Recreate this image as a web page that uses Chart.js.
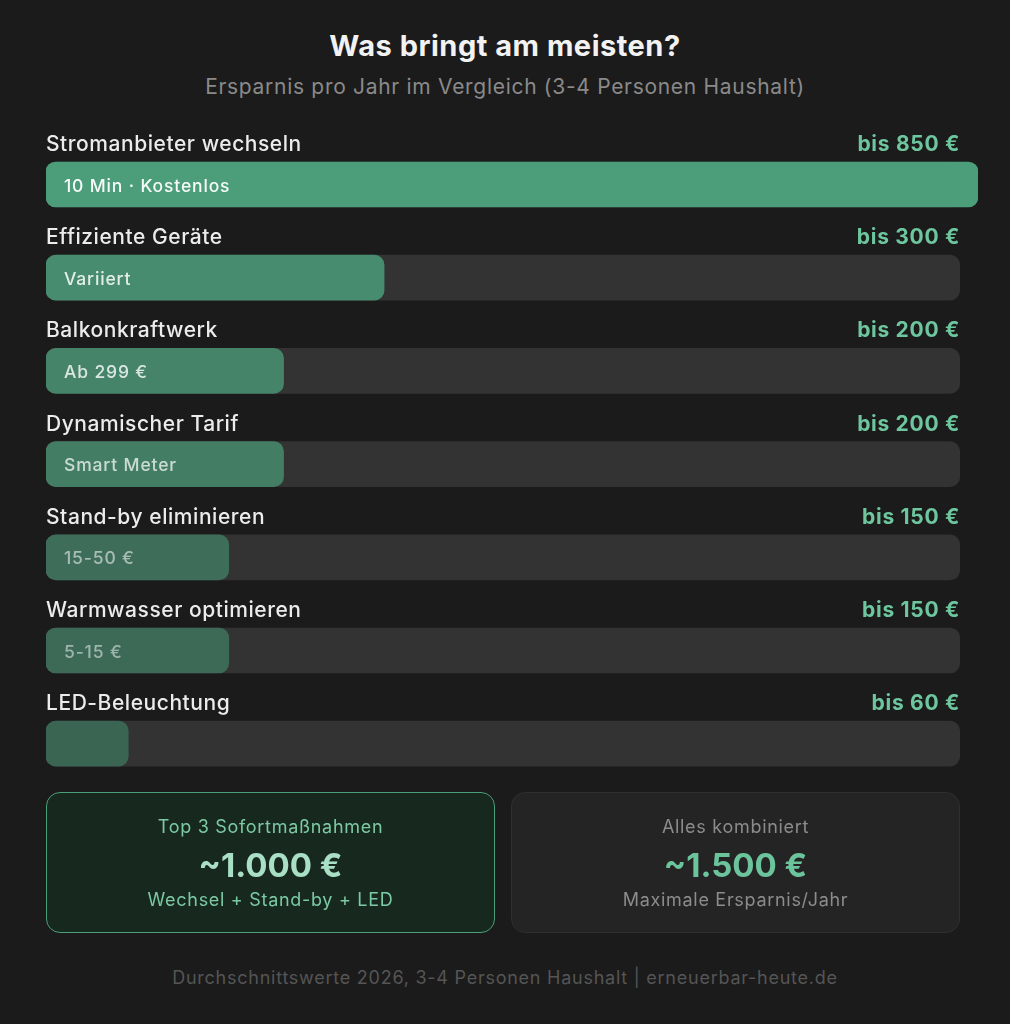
<!DOCTYPE html>
<html><head><meta charset="utf-8">
<script src="https://cdn.jsdelivr.net/npm/chart.js@4/dist/chart.umd.min.js"></script>
<style>
html,body{margin:0;padding:0;background:#1b1b1b;width:1010px;height:1024px;overflow:hidden;font-family:Inter,"Noto Sans",sans-serif;}
#wrap{position:relative;width:1010px;height:1024px;}
.t{position:absolute;left:0;width:1010px;text-align:center;line-height:1.2;}
#title{top:29px;font-size:29px;font-weight:700;color:#f2f2f2;letter-spacing:0.5px;}
#sub{top:74px;font-size:21px;color:#8a8a8a;letter-spacing:0.7px;}
#cv{position:absolute;left:0;top:110px;}
.card{position:absolute;top:792px;height:141px;width:449px;box-sizing:border-box;border-radius:14px;text-align:center;}
#c1{left:46px;background:#17281f;border:1.5px solid #4a9e78;}
#c2{left:511px;background:#242424;border:1px solid #2f2f2f;}
.l1,.l3{position:absolute;left:0;right:0;font-size:18px;letter-spacing:0.7px;line-height:22px;}
.l1{top:23px;}
.l3{top:96px;}
.l2{position:absolute;left:0;right:0;top:52px;font-size:33px;font-weight:700;line-height:40px;}
#foot{top:967px;font-size:18px;color:#555;letter-spacing:0.75px;}
</style></head>
<body><div id="wrap">
<div class="t" id="title">Was bringt am meisten?</div>
<div class="t" id="sub">Ersparnis pro Jahr im Vergleich (3-4 Personen Haushalt)</div>
<canvas id="cv" width="1010" height="690"></canvas>
<div class="card" id="c1"><div class="l1" style="color:#7ccaa3">Top 3 Sofortmaßnahmen</div><div class="l2" style="color:#a9e0c5">~1.000 €</div><div class="l3" style="color:#7ccaa3">Wechsel + Stand-by + LED</div></div>
<div class="card" id="c2"><div class="l1" style="color:#8c8c8c">Alles kombiniert</div><div class="l2" style="color:#6cc49c">~1.500 €</div><div class="l3" style="color:#8c8c8c">Maximale Ersparnis/Jahr</div></div>
<div class="t" id="foot">Durchschnittswerte 2026, 3-4 Personen Haushalt | erneuerbar-heute.de</div>
</div>
<script>
const categories = ["Stromanbieter wechseln","Effiziente Geräte","Balkonkraftwerk","Dynamischer Tarif","Stand-by eliminieren","Warmwasser optimieren","LED-Beleuchtung"];
const savings = [850,300,200,200,150,150,60];            // € per year (labels)
const barShare = [102,37,26,26,20,20,9];                  // bar length, % of track
const trackShare = [100,100,100,100,100,100,100];
const notes = ["10 Min · Kostenlos","Variiert","Ab 299 €","Smart Meter","15-50 €","5-15 €",""];
const barColors = ["#4b9e79","#478c6f","#458469","#437e64","#3e6e5a","#3d6a57","#3b6553"];
const noteAlpha = [0.95,0.85,0.8,0.72,0.55,0.5,0.5];

const FONT = 'Inter, "Noto Sans", sans-serif';
const labelsPlugin = {
  id:'rowLabels',
  afterDatasetsDraw(chart){
    const ctx = chart.ctx;
    const meta = chart.getDatasetMeta(1);
    meta.data.forEach((bar,i)=>{
      const y = bar.y;
      const top = y - 22.5;
      ctx.save();
      ctx.textBaseline='alphabetic';
      ctx.font = '500 21px ' + FONT;
      ctx.letterSpacing = '0.55px';
      ctx.fillStyle = '#ececec';
      ctx.textAlign='left';
      ctx.fillText(categories[i], 46, top - 11);
      ctx.font = '700 21px ' + FONT;
      ctx.letterSpacing = '0.7px';
      ctx.fillStyle = '#6dc69e';
      ctx.textAlign='right';
      ctx.fillText('bis ' + savings[i] + ' €', 960, top - 11);
      if (notes[i]) {
        ctx.font = '500 17.5px ' + FONT;
        ctx.letterSpacing = '0.85px';
        ctx.fillStyle = 'rgba(255,255,255,' + noteAlpha[i] + ')';
        ctx.textAlign='left';
        ctx.fillText(notes[i], 64, y + 7);
      }
      ctx.restore();
    });
  }
};

new Chart(document.getElementById('cv'), {
  type:'bar',
  data:{
    labels: categories,
    datasets:[
      {data: trackShare, backgroundColor:'#333333', grouped:false, order:2, barThickness:45, borderRadius:10, borderSkipped:false},
      {data: barShare, backgroundColor: barColors, grouped:false, order:1, barThickness:45, borderRadius:10, borderSkipped:false}
    ]
  },
  options:{
    indexAxis:'y',
    responsive:false,
    animation:false,
    events:[],
    layout:{padding:{left:46,right:32,top:27.9,bottom:9.7}},
    plugins:{legend:{display:false},tooltip:{enabled:false}},
    scales:{
      x:{display:false,min:0,max:102},
      y:{display:false}
    }
  },
  plugins:[labelsPlugin]
});
</script>
</body></html>
